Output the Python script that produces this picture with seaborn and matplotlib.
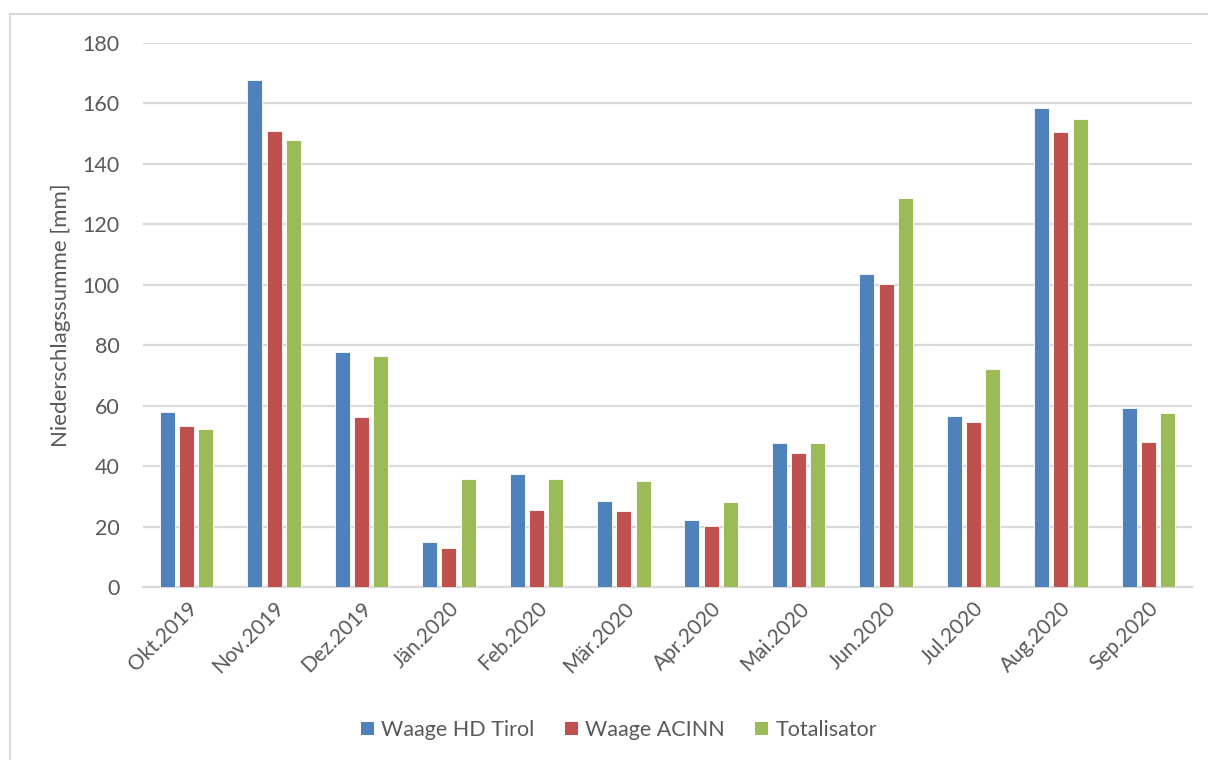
import matplotlib
matplotlib.use("Agg")
import matplotlib.pyplot as plt
import seaborn as sns
import pandas as pd
from matplotlib.patches import Rectangle, Patch

# Monthly precipitation totals, hydrological year 2019/2020
months = ["Okt.2019", "Nov.2019", "Dez.2019", "Jän.2020", "Feb.2020", "Mär.2020",
          "Apr.2020", "Mai.2020", "Jun.2020", "Jul.2020", "Aug.2020", "Sep.2020"]
waage_hd_tirol = [57.8, 167.8, 77.8, 15.0, 37.5, 28.3, 22.1, 47.7, 103.6, 56.7, 158.4, 59.3]
waage_acinn = [53.4, 150.8, 56.4, 13.0, 25.6, 25.3, 20.3, 44.2, 100.4, 54.5, 150.5, 47.9]
totalisator = [52.3, 147.8, 76.3, 35.7, 35.7, 35.0, 28.0, 47.7, 128.6, 72.0, 155.0, 57.6]
series_names = ["Waage HD Tirol", "Waage ACINN", "Totalisator"]
yticks = [0, 20, 40, 60, 80, 100, 120, 140, 160, 180]

colors = ["#4F81BD", "#C0504D", "#9BBB59"]
text_color = "#595959"
grid_color = "#D9D9D9"

df = pd.DataFrame({
    "Monat": months * 3,
    "Wert": waage_hd_tirol + waage_acinn + totalisator,
    "Serie": [series_names[0]] * 12 + [series_names[1]] * 12 + [series_names[2]] * 12,
})

sns.set_theme(style="white")
plt.rcParams["font.family"] = ["Lato", "DejaVu Sans"]

W, H = 1208, 760
fig = plt.figure(figsize=(W / 100, H / 100), dpi=100)
ax = fig.add_axes([143 / W, 1 - 587 / H, (1192 - 143) / W, (587 - 43) / H])

sns.barplot(data=df, x="Monat", y="Wert", hue="Serie", order=months,
            hue_order=series_names, palette=colors, width=0.66, gap=0.22,
            edgecolor="white", linewidth=0.6, saturation=1, ax=ax, legend=False,
            zorder=3)

ax.set_ylim(0, 180)
ax.set_xlim(-0.5, len(months) - 0.5)
ax.set_yticks(yticks)
ax.yaxis.grid(True, color=grid_color, linewidth=1.6, zorder=0)
ax.set_axisbelow(True)
for s in ["left", "right", "top"]:
    ax.spines[s].set_visible(False)
ax.spines["bottom"].set_color(grid_color)
ax.spines["bottom"].set_linewidth(1.6)
ax.tick_params(axis="both", length=0, colors=text_color)
ax.tick_params(axis="y", pad=17, labelsize=15.5)
ax.tick_params(axis="x", pad=8, labelsize=15)
ax.set_xlabel("")
ax.set_ylabel("Niederschlagssumme [mm]", color=text_color, fontsize=16, labelpad=8)
for lbl in ax.get_xticklabels():
    lbl.set_rotation(45)
    lbl.set_ha("right")
    lbl.set_rotation_mode("anchor")

handles = [Patch(facecolor=c, edgecolor="none") for c in colors]
fig.legend(handles, series_names, loc="center", bbox_to_anchor=(619 / W, 1 - 730 / H),
           ncol=3, frameon=False, fontsize=15.5, labelcolor=text_color,
           handlelength=0.6, handleheight=0.6, handletextpad=0.35, columnspacing=1.4)

# light chart-area frame
fig.patches.append(Rectangle((10 / W, -0.05), 1.1, 1 - 14 / H + 0.05,
                             transform=fig.transFigure, fill=False,
                             edgecolor="#D9D9D9", linewidth=1.5))

fig.savefig("out.png", dpi=100)
